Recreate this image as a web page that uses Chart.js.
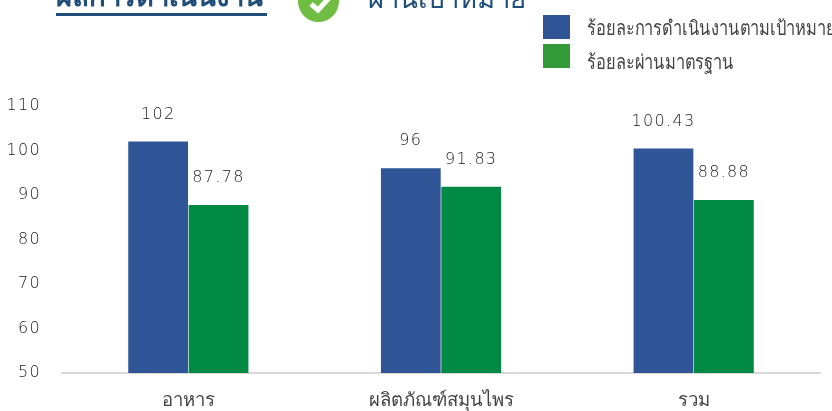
<!DOCTYPE html>
<html lang="th">
<head>
<meta charset="utf-8">
<script src="https://cdn.jsdelivr.net/npm/chart.js@4"></script>
<style>
html,body{margin:0;padding:0;background:#fff;width:832px;height:411px;overflow:hidden}
#wrap{position:relative;width:832px;height:411px;overflow:hidden}
#c{position:absolute;left:0;top:0}
.t{position:absolute;white-space:nowrap;font-family:"Noto Sans",sans-serif}
#title{left:56px;top:-25px;font-size:27.5px;line-height:41px;font-weight:700;color:#1f4e79}
#rule{position:absolute;left:56px;top:13px;width:211px;height:3px;background:#1f4e79}
#sub{left:368px;top:-23px;font-size:27.5px;line-height:41px;color:#1f4e79}
#check{position:absolute;left:288px;top:-18px}
.sw{position:absolute;left:543px;width:27px;height:24px}
.lg{left:587px;font-size:20px;line-height:26px;color:#444;transform:scaleX(.82);transform-origin:0 50%}
</style>
</head>
<body>
<div id="wrap">
<canvas id="c" width="832" height="411"></canvas>
<div class="t" id="title">ผลการดำเนินงาน</div>
<div id="rule"></div>
<svg id="check" width="52" height="42" viewBox="0 0 52 42"><circle cx="30.5" cy="19.5" r="20.5" fill="#70bd44"/><path d="M23 22l7 6 12-13" fill="none" stroke="#fff" stroke-width="5"/></svg>
<div class="t" id="sub">ผ่านเป้าหมาย</div>
<div id="legend"></div>
</div>
<script>
const categories = ["อาหาร", "ผลิตภัณฑ์สมุนไพร", "รวม"];
const seriesNames = ["ร้อยละการดำเนินงานตามเป้าหมาย", "ร้อยละผ่านมาตรฐาน"];
const targetValues = [102, 96, 100.43];
const standardValues = [87.78, 91.83, 88.88];
const targetLabels = ["102", "96", "100.43"];
const standardLabels = ["87.78", "91.83", "88.88"];
const yTicks = [50, 60, 70, 80, 90, 100, 110];

const legendColors = ["#2f5597", "#339b38"];
const legendTops = [15, 44];
const labelTops = [15, 49];
const legendEl = document.getElementById("legend");
seriesNames.forEach((n, i) => {
  const s = document.createElement("div");
  s.className = "sw"; s.style.top = legendTops[i] + "px"; s.style.background = legendColors[i];
  const l = document.createElement("div");
  l.className = "t lg"; l.style.top = labelTops[i] + "px"; l.textContent = n;
  legendEl.append(s, l);
});

const numFont = '200 16px "DejaVu Sans", sans-serif';
const spacing = "1.3px";
const valueLabels = {
  id: "valueLabels",
  beforeDraw(chart) {
    const s = chart.scales.y;
    if (!s._spaced) {
      const orig = s.drawLabels;
      s.drawLabels = function (a) {
        this.ctx.letterSpacing = spacing;
        orig.call(this, a);
        this.ctx.letterSpacing = "0px";
      };
      s._spaced = true;
    }
  },
  afterDatasetsDraw(chart) {
    const ctx = chart.ctx;
    ctx.save();
    ctx.font = numFont;
    ctx.letterSpacing = spacing;
    ctx.fillStyle = "#222";
    ctx.textAlign = "center";
    ctx.textBaseline = "middle";
    [targetLabels, standardLabels].forEach((labels, d) => {
      chart.getDatasetMeta(d).data.forEach((bar, i) => {
        ctx.fillText(labels[i], bar.x, bar.y - 27);
      });
    });
    ctx.restore();
  }
};

new Chart(document.getElementById("c"), {
  type: "bar",
  data: {
    labels: categories,
    datasets: [
      { label: seriesNames[0], data: targetValues, backgroundColor: "#2f5597", barPercentage: 0.99, categoryPercentage: 0.478 },
      { label: seriesNames[1], data: standardValues, backgroundColor: "#008a44", barPercentage: 0.99, categoryPercentage: 0.478 }
    ]
  },
  options: {
    responsive: false,
    animation: false,
    layout: { padding: { left: 0, right: 12, top: 106, bottom: 0 } },
    plugins: { legend: { display: false }, tooltip: { enabled: false } },
    scales: {
      x: {
        grid: { display: false, drawTicks: false },
        border: { color: "#d9d9d9", width: 2 },
        ticks: { padding: 17, color: "#444", font: { family: '"Noto Sans", sans-serif', size: 18.5 } },
        afterFit(s) { s.height = 38; }
      },
      y: {
        min: 50, max: 110,
        grid: { display: false, drawTicks: false },
        border: { display: false },
        afterBuildTicks(s) { s.ticks = yTicks.map(v => ({ value: v })); },
        ticks: { padding: 21, color: "#222", font: { family: '"DejaVu Sans", sans-serif', size: 16, weight: 200 } },
        afterFit(s) { s.width = 62; }
      }
    }
  },
  plugins: [valueLabels]
});
</script>
</body>
</html>
